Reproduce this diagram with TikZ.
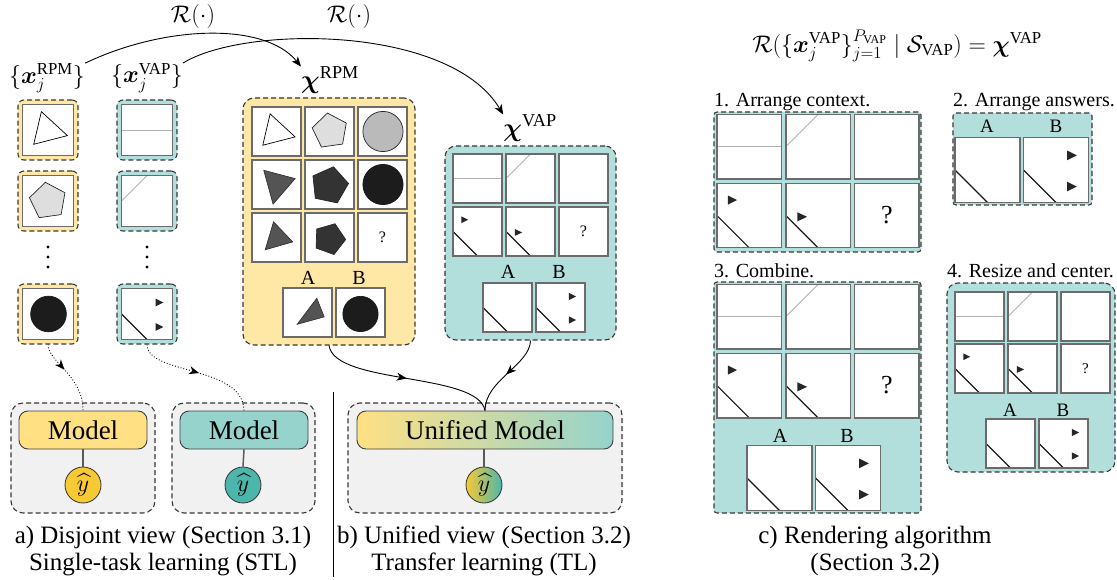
\RequirePackage{fix-cm}
\documentclass[tikz,border=0pt]{standalone}
\usepackage{amsmath,bm}
\usepackage{fontspec}
\setmainfont{Liberation Serif}
\usetikzlibrary{arrows.meta,decorations.markings,calc}

\definecolor{ylwl}{HTML}{FFE8A6}
\definecolor{ylwm}{HTML}{FFE083}
\definecolor{ylwd}{HTML}{F7C934}
\definecolor{tell}{HTML}{B2DFDB}
\definecolor{telm}{HTML}{95D3CC}
\definecolor{teld}{HTML}{4DB6AC}
\definecolor{grybg}{HTML}{F1F1F1}

\tikzset{
 dsh/.style={draw=black!78, line width=1.1pt, dash pattern=on 5pt off 3pt},
 colbox/.style={dsh, rounded corners=6pt, minimum size=60pt, inner sep=0},
 panel/.style={dsh, rounded corners=11pt, inner sep=0},
 stepbox/.style={dsh, rounded corners=3pt, inner sep=0, fill=tell},
 graybox/.style={dsh, rounded corners=12pt, fill=grybg, inner sep=0, minimum height=110pt},
 model/.style={draw=black!75, line width=0.9pt, rounded corners=9pt, minimum height=38pt, inner sep=0, font=\fontsize{27}{30}\selectfont},
 yhat/.style={circle, draw=black!80, line width=0.8pt, minimum size=36pt, inner sep=0, font=\fontsize{24}{24}\selectfont},
 stem/.style={draw=black!65, line width=1.5pt},
 cellline/.style={draw=black!58, line width=1.4pt},
 lgline/.style={draw=black!30, line width=0.9pt},
 bkline/.style={draw=black!90, line width=1.1pt},
 captxt/.style={font=\fontsize{25}{30}\selectfont, anchor=base, inner sep=0},
 steplbl/.style={font=\fontsize{20}{24}\selectfont, anchor=base west, inner sep=0},
 ablbl/.style={font=\fontsize{20}{24}\selectfont, inner sep=0},
 mlbl/.style={font=\fontsize{24}{28}\selectfont, inner sep=0},
 arr/.style={line width=0.9pt, -{Stealth[length=10pt,width=8pt,inset=3pt]}},
 midarr/.style={line width=0.9pt, postaction={decorate}, decoration={markings, mark=at position #1 with {\arrow{Stealth[length=10pt,width=8pt,inset=3pt]}}}},
 midarr/.default=0.5,
}

\newcommand{\cellat}[4]{\begin{scope}[shift={(#1,#2)},x=#3pt,y=-#3pt]\fill[white](0,0)rectangle(1,1);#4\draw[cellline](0,0)rectangle(1,1);\end{scope}}
\newcommand{\qH}{\draw[lgline](0,.5)--(1,.5);}
\newcommand{\qD}{\draw[lgline](0,.5)--(.5,0);}
\newcommand{\qL}{\draw[bkline](0,.5)--(.5,1);}
\newcommand{\qTa}{\fill[black!85](.17,.19)--(.17,.33)--(.31,.26)--cycle;}
\newcommand{\qTb}{\fill[black!85](.18,.45)--(.18,.59)--(.33,.52)--cycle;}
\newcommand{\qTT}{\fill[black!85](.67,.2)--(.67,.35)--(.82,.275)--cycle (.67,.68)--(.67,.83)--(.82,.755)--cycle;}
\newcommand{\qQ}[2]{\node[inner sep=0,font=\fontsize{#2}{#2}\selectfont](#1) at (.5,.5){?};}
\newcommand{\pent}[5]{\draw[black!85,line width=.7pt,fill=#1,shift={(#2,#3)}] ({#5-90}:#4)--({#5-18}:#4)--({#5+54}:#4)--({#5+126}:#4)--({#5+198}:#4)--cycle;}
\newcommand{\rTw}{\draw[black,line width=.7pt,fill=white](.37,.14)--(.88,.61)--(.22,.78)--cycle;}
\newcommand{\rPl}{\pent{black!13}{.51}{.49}{.37}{-8}}
\newcommand{\rCg}{\draw[black!85,line width=.7pt,fill=black!27](.51,.5) circle[radius=.41];}
\newcommand{\rTd}{\draw[black!80,line width=.7pt,fill=black!67](.24,.21)--(.88,.38)--(.43,.90)--cycle;}
\newcommand{\rPd}{\pent{black!80}{.5}{.52}{.39}{12}}
\newcommand{\rCb}{\draw[black!90,line width=.7pt,fill=black!89](.51,.5) circle[radius=.41];}
\newcommand{\rTe}{\draw[black!80,line width=.7pt,fill=black!67](.44,.18)--(.83,.59)--(.27,.75)--cycle;}
\newcommand{\rPe}{\pent{black!80}{.5}{.53}{.33}{20}}
\newcommand{\rTA}{\draw[black!80,line width=.7pt,fill=black!67](.69,.21)--(.84,.59)--(.29,.74)--cycle;}
\newcommand{\rCB}{\draw[black!90,line width=.7pt,fill=black!89](.5,.53) circle[radius=.36];}
\newcommand{\rCL}{\draw[black!90,line width=.7pt,fill=black!89](.51,.5) circle[radius=.35];}

\begin{document}
\begin{tikzpicture}[x=1pt,y=-1pt]
\useasboundingbox (0,0) rectangle (1117,580);

% ---------- top labels ----------
\node[mlbl] (rl1) at (193,17) {$\mathcal{R}(\cdot)$};
\node[mlbl] (rl2) at (349,17) {$\mathcal{R}(\cdot)$};
\node[mlbl] (lblR) at (47,78) {$\{\bm{x}_j^{\text{RPM}}\}$};
\node[mlbl] (lblV) at (147,78) {$\{\bm{x}_j^{\text{VAP}}\}$};
\node[mlbl,font=\fontsize{26}{30}\selectfont] (chiR) at (330,80) {$\bm{\chi}^{\text{RPM}}$};
\node[mlbl,font=\fontsize{26}{30}\selectfont] (chiV) at (530,128) {$\bm{\chi}^{\text{VAP}}$};

\draw[arr] (lblR.north east) .. controls (165,25) and (265,22) .. (chiR.north west);
\draw[arr] (lblV.north east) .. controls (245,25) and (450,25) .. (chiV.north west);

% ---------- left columns ----------
\node[colbox,fill=ylwl] (ra) at (48,130) {};
\node[colbox,fill=ylwl] (rb) at (48,201) {};
\node[colbox,fill=ylwl] (rc) at (48,314) {};
\node[colbox,fill=tell] (va) at (147,130) {};
\node[colbox,fill=tell] (vb) at (147,201) {};
\node[colbox,fill=tell] (vc) at (147,314) {};
\cellat{22.5}{104.5}{51}{\rTw}
\cellat{22.5}{175.5}{51}{\pent{black!13}{.5}{.5}{.37}{-8}}
\cellat{22.5}{288.5}{51}{\rCL}
\cellat{121.5}{104.5}{51}{\qH}
\cellat{121.5}{175.5}{51}{\qD}
\cellat{121.5}{288.5}{51}{\qL\qTT}
\foreach \yy in {247,257,267}{\fill (48,\yy) circle (1.6pt); \fill (147,\yy) circle (1.6pt);}

% ---------- RPM panel ----------
\node[panel,fill=ylwl,minimum width=172pt,minimum height=247pt] (prpm) at (329,221.5) {};
\cellat{252}{107}{49}{\rTw}
\cellat{305}{107}{49}{\rPl}
\cellat{358}{107}{49}{\rCg}
\cellat{252}{160}{49}{\rTd}
\cellat{305}{160}{49}{\rPd}
\cellat{358}{160}{49}{\rCb}
\cellat{252}{213}{49}{\rTe}
\cellat{305}{213}{49}{\rPe}
\cellat{358}{213}{49}{\qQ{qR}{16}}
\node[ablbl] (aR) at (308,278) {A};
\node[ablbl] (bR) at (359,278) {B};
\cellat{283}{288}{49}{\rTA}
\cellat{336}{288}{49}{\rCB}

% ---------- VAP panel ----------
\node[panel,fill=tell,minimum width=171pt,minimum height=194pt] (pvap) at (530.5,243) {};
\cellat{453}{154}{49}{\qH}
\cellat{506}{154}{49}{\qD}
\cellat{559}{154}{49}{}
\cellat{453}{207}{49}{\qL\qTa}
\cellat{506}{207}{49}{\qL\qTb}
\cellat{559}{207}{49}{\qQ{qV}{16}}
\node[ablbl] (aV) at (508,272) {A};
\node[ablbl] (bV) at (559,272) {B};
\cellat{483}{283}{49}{\qL}
\cellat{536}{283}{49}{\qL\qTT}

% ---------- bottom models ----------
\node[graybox,minimum width=144pt] (ga) at (83,458) {};
\node[graybox,minimum width=143pt] (gb) at (243.5,458) {};
\node[graybox,minimum width=274pt] (gc) at (485,458) {};
\node[model,fill=ylwm,minimum width=128pt] (m1) at (83,430) {Model};
\node[model,fill=telm,minimum width=128pt] (m2) at (244,430) {Model};
\node[model,left color=ylwm,right color=telm,minimum width=256pt] (um) at (485,430) {Unified Model};
\node[yhat,fill=ylwd] (y1) at (83,485) {$\widehat{y}$};
\node[yhat,fill=teld] (y2) at (243,485) {$\widehat{y}$};
\node[yhat,left color=ylwd,right color=teld] (y3) at (484,485) {$\widehat{y}$};
\draw[stem] (m1.south) -- (y1.north);
\draw[stem] (m2.south) -- (y2.north);
\draw[stem] (um.south -| y3.north) -- (y3.north);

\draw[midarr=0.4,dotted] (rc.south) .. controls (48,362) and (83,375) .. (m1.north);
\draw[midarr=0.5,dotted] (vc.south) .. controls (147,375) and (243,365) .. (m2.north);
\draw[midarr=0.5] (prpm.south) .. controls (335,385) and (478,372) .. (um.north);
\draw[midarr=0.5] (pvap.south) .. controls (530,365) and (485,380) .. (um.north);

\draw[line width=0.9pt] (333,392) -- (333,577);

\node[captxt] (ca1) at (163,543) {a) Disjoint view (Section 3.1)};
\node[captxt] (ca2) at (163,570) {Single-task learning (STL)};
\node[captxt] (cb1) at (484,543) {b) Unified view (Section 3.2)};
\node[captxt] (cb2) at (484,570) {Transfer learning (TL)};
\node[captxt] (cc1) at (875,543) {c) Rendering algorithm};
\node[captxt] (cc2) at (875,570) {(Section 3.2)};

% ---------- right side ----------
\node[mlbl] (frm) at (897,46) {$\mathcal{R}(\{\bm{x}_j^{\text{VAP}}\}_{j=1}^{P_{\text{VAP}}}\mid\mathcal{S}_{\text{VAP}})=\bm{\chi}^{\text{VAP}}$};

\node[steplbl] (l1) at (714,107) {1. Arrange context.};
\node[steplbl] (l2) at (953,107) {2. Arrange answers.};
\node[steplbl] (l3) at (714,278) {3. Combine.};
\node[steplbl] (l4) at (947,278) {4. Resize and center.};

% step 1
\node[stepbox,minimum width=207pt,minimum height=140pt] (s1) at (817.5,182) {};
\cellat{717}{114.5}{64.5}{\qH}
\cellat{785.8}{114.5}{64.5}{\qD}
\cellat{854.6}{114.5}{64.5}{}
\cellat{717}{183.3}{64.5}{\qL\qTa}
\cellat{785.8}{183.3}{64.5}{\qL\qTb}
\cellat{854.6}{183.3}{64.5}{\qQ{q1}{26}}

% step 2
\node[stepbox,minimum width=139pt,minimum height=92pt] (s2) at (1022.5,159) {};
\node[ablbl,font=\fontsize{19}{22}\selectfont] (a2) at (987,126) {A};
\node[ablbl,font=\fontsize{19}{22}\selectfont] (b2) at (1056,126) {B};
\cellat{955}{137.5}{65}{\qL}
\cellat{1023.5}{137.5}{65}{\qL\qTT}

% step 3
\node[stepbox,minimum width=207pt,minimum height=231pt] (s3) at (817.5,397.5) {};
\cellat{717}{284.5}{64.5}{\qH}
\cellat{785.8}{284.5}{64.5}{\qD}
\cellat{854.6}{284.5}{64.5}{}
\cellat{717}{353.3}{64.5}{\qL\qTa}
\cellat{785.8}{353.3}{64.5}{\qL\qTb}
\cellat{854.6}{353.3}{64.5}{\qQ{q3}{26}}
\node[ablbl] (a3) at (780,436) {A};
\node[ablbl] (b3) at (847,436) {B};
\cellat{747}{445.5}{65}{\qL}
\cellat{815.5}{445.5}{65}{\qL\qTT}

% step 4
\node[panel,fill=tell,minimum width=168pt,minimum height=189pt] (s4) at (1031,377.5) {};
\cellat{955}{292}{49}{\qH}
\cellat{1008}{292}{49}{\qD}
\cellat{1061}{292}{49}{}
\cellat{955}{344}{49}{\qL\qTa}
\cellat{1008}{344}{49}{\qL\qTb}
\cellat{1061}{344}{49}{\qQ{q4}{15}}
\node[ablbl,font=\fontsize{19}{22}\selectfont] (a4) at (1010,410) {A};
\node[ablbl,font=\fontsize{19}{22}\selectfont] (b4) at (1063,410) {B};
\cellat{986}{419}{49}{\qL}
\cellat{1039}{419}{49}{\qL\qTT}
\end{tikzpicture}
\end{document}
